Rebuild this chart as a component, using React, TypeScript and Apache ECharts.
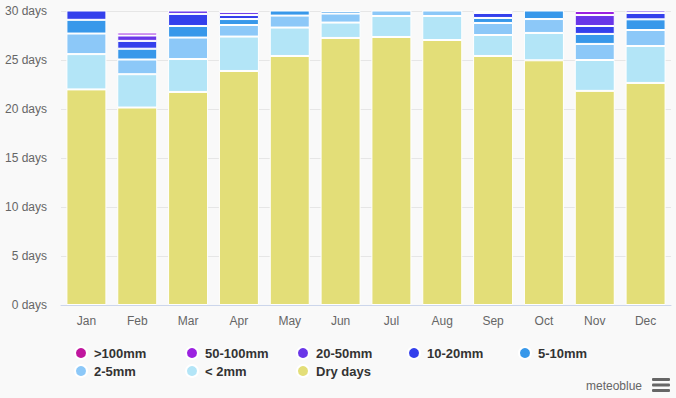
import React, { useEffect, useRef } from "react";
import * as echarts from "echarts";

const months = ["Jan", "Feb", "Mar", "Apr", "May", "Jun", "Jul", "Aug", "Sep", "Oct", "Nov", "Dec"];
const yTicks = [0, 5, 10, 15, 20, 25, 30];

const dryDays = [22.0, 20.15, 21.74, 23.88, 25.41, 27.25, 27.35, 27.04, 25.41, 24.97, 21.85, 22.66];
const lt2mm = [3.6, 3.4, 3.36, 3.51, 2.9, 1.57, 2.14, 2.45, 2.14, 2.79, 3.15, 3.77];
const mm2to5 = [2.1, 1.5, 2.19, 1.18, 1.22, 0.92, 1.51, 1.51, 1.23, 1.42, 1.64, 1.63];
const mm5to10 = [1.4, 1.1, 1.18, 0.61, 1.0, 0.26, 0, 0, 0.51, 1.5, 1.02, 1.09];
const mm10to20 = [1.3, 0.8, 1.23, 0.41, 0.47, 0, 0, 0, 0.51, 0.32, 0.81, 0.65];
const mm20to50 = [0.6, 0.55, 0.9, 0.3, 0, 0, 0, 0, 0.2, 0, 1.12, 0.9];
const mm50to100 = [0, 0.3, 0.4, 0.11, 0, 0, 0, 0, 0, 0, 0.41, 0.2];
const gt100mm = [0, 0, 0, 0, 0, 0, 0, 0, 0, 0, 0, 0];

const seriesDefs = [
  { name: "Dry days", data: dryDays, color: "#e3de78" },
  { name: "< 2mm", data: lt2mm, color: "#b3e5f7" },
  { name: "2-5mm", data: mm2to5, color: "#8cc8f8" },
  { name: "5-10mm", data: mm5to10, color: "#3898ea" },
  { name: "10-20mm", data: mm10to20, color: "#3440ec" },
  { name: "20-50mm", data: mm20to50, color: "#6a36e8" },
  { name: "50-100mm", data: mm50to100, color: "#9b22e0" },
  { name: ">100mm", data: gt100mm, color: "#c0169e" },
];

const legendOrder = [">100mm", "50-100mm", "20-50mm", "10-20mm", "5-10mm", "2-5mm", "< 2mm", "Dry days"];

const FONT = "'Liberation Sans', Arial, sans-serif";

export default function App() {
  const ref = useRef<HTMLDivElement>(null);
  useEffect(() => {
    if (!ref.current) return;
    const chart = echarts.init(ref.current, undefined, { renderer: "svg" });
    const legends = legendOrder.map((name, i) => ({
      data: [name],
      left: 74 + (i % 5) * 111,
      top: i < 5 ? 346 : 364,
      padding: 0,
      icon: "circle",
      itemWidth: 12,
      itemHeight: 12,
      selectedMode: false,
      textStyle: { color: "#333", fontSize: 13, fontWeight: "bold", fontFamily: FONT, padding: [0, 0, 0, 2] },
    }));
    chart.setOption({
      animation: false,
      backgroundColor: "#f9f9f9",
      textStyle: { fontFamily: FONT },
      grid: { left: 61, right: 5, top: 11, bottom: 93 },
      legend: legends,
      xAxis: {
        type: "category",
        data: months,
        axisLine: { lineStyle: { color: "#ccd6eb" } },
        axisTick: { show: false },
        axisLabel: { color: "#666", fontSize: 12, margin: 10, fontFamily: FONT },
      },
      yAxis: {
        type: "value",
        min: yTicks[0],
        max: yTicks[yTicks.length - 1],
        interval: 5,
        axisLine: { show: false },
        axisTick: { show: false },
        splitLine: { lineStyle: { color: "#e6e6e6" } },
        axisLabel: { color: "#666", fontSize: 12, margin: 14, formatter: "{value} days", fontFamily: FONT },
      },
      series: seriesDefs.map((s) => ({
        name: s.name,
        type: "bar",
        stack: "days",
        barWidth: 40,
        clip: true,
        data: s.data.map((v) => (v === 0 ? null : v)),
        itemStyle: { color: s.color, borderColor: "#ffffff", borderWidth: 1 },
        emphasis: { disabled: true },
      })),
      graphic: [
        {
          type: "text",
          right: 34,
          top: 380,
          style: { text: "meteoblue", fill: "#666", fontSize: 12, fontFamily: FONT },
        },
        { type: "rect", shape: { x: 652, y: 378, width: 18, height: 3, r: 1 }, style: { fill: "#666" } },
        { type: "rect", shape: { x: 652, y: 383.5, width: 18, height: 3, r: 1 }, style: { fill: "#666" } },
        { type: "rect", shape: { x: 652, y: 389, width: 18, height: 3, r: 1 }, style: { fill: "#666" } },
      ],
    });
    return () => chart.dispose();
  }, []);
  return <div ref={ref} style={{ width: 676, height: 398, position: "absolute", left: 0, top: 0 }} />;
}
